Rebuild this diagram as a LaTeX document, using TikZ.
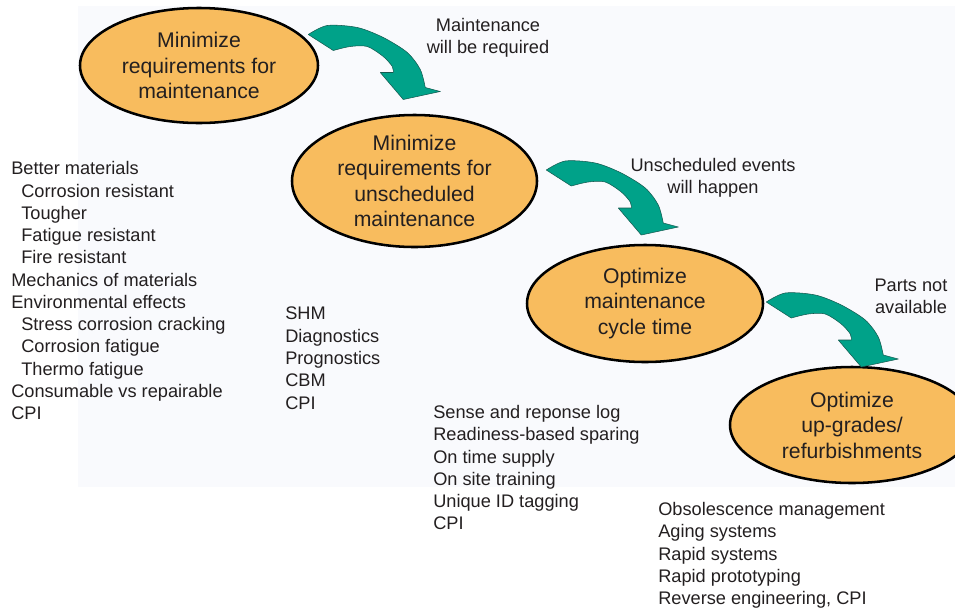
\documentclass[tikz,border=0pt]{standalone}
\usepackage{fontspec}
\setmainfont{Liberation Sans}
\usetikzlibrary{shapes.geometric}

\definecolor{goalfill}{RGB}{248,188,94}
\definecolor{arrowteal}{RGB}{0,162,137}
\definecolor{arrowedge}{RGB}{20,90,80}
\definecolor{inktext}{RGB}{35,31,32}
\definecolor{paneltint}{RGB}{249,250,253}

% bent block arrow, tail fixed at a node anchor plus an offset
\newcommand{\bendarrow}[2]{%
	\fill [arrowteal, draw=arrowedge, line width=.4pt, line join=round, shift={(#1)}, shift={(#2)}]
		plot [smooth] coordinates {(0,0) (19,-9) (49,-7) (75,3) (99,18) (112,35) (117,53)}
		-- (132,57) -- (95,65) -- (72,38) -- (85,38)
		-- plot [smooth] coordinates {(85,38) (84,32) (75,22) (59,12) (42,12) (25,16)}
		-- cycle;}

\begin{document}
\begin{tikzpicture}[x = .75pt, y = -.75pt,
		goal/.style = {ellipse, draw = black, line width = 1.9pt, fill = goalfill, inner sep = 0pt,
			align = center, text = inktext, font = \fontsize{15.9}{19.1}\selectfont},
		items/.style = {anchor = north west, align = left, inner sep = 0pt, text = inktext,
			font = \fontsize{13.65}{16.7}\selectfont},
		cue/.style = {anchor = north, align = center, inner sep = 0pt, text = inktext,
			font = \fontsize{13.65}{16.5}\selectfont}]
		\useasboundingbox (0,0) rectangle (955,611);
		\fill [paneltint] (78,6) rectangle (955,487);
		
		\node (e1) at (199,65.5) [goal, minimum width = 178.5pt, minimum height = 86.25pt] {Minimize\\requirements for\\maintenance};
		\node (e2) at (414.5,181) [goal, minimum width = 183.75pt, minimum height = 99pt] {Minimize\\requirements for\\unscheduled\\maintenance};
		\node (e3) at (645,303.5) [goal, minimum width = 177pt, minimum height = 87.75pt] {Optimize\\maintenance\\cycle time};
		\node (e4) at (852,425) [goal, minimum width = 183pt, minimum height = 87pt] {Optimize\\up-grades/\\refurbishments};
		
		\bendarrow{e1.east}{-11,-31}
		\bendarrow{e2.east}{8,-11}
		\bendarrow{e3.east}{2,-1.5}
		
		\node (need) at (488,18) [cue] {Maintenance\\will be required};
		\node (events) at (713,158) [cue] {Unscheduled events\\will happen};
		\node (parts) at (911,279) [cue] {Parts not\\available};
		
		\node (materials) at (11,161.3) [items] {Better materials\\
			\hspace*{7.5pt}Corrosion resistant\\
			\hspace*{7.5pt}Tougher\\
			\hspace*{7.5pt}Fatigue resistant\\
			\hspace*{7.5pt}Fire resistant\\
			Mechanics of materials\\
			Environmental effects\\
			\hspace*{7.5pt}Stress corrosion cracking\\
			\hspace*{7.5pt}Corrosion fatigue\\
			\hspace*{7.5pt}Thermo fatigue\\
			Consumable vs repairable\\
			CPI};
		\node (health) at (285,307) [items] {SHM\\Diagnostics\\Prognostics\\CBM\\CPI};
		\node (support) at (433,405) [items] {Sense and reponse log\\Readiness-based sparing\\On time supply\\On site training\\Unique ID tagging\\CPI};
		\node (ageing) at (658,502) [items] {Obsolescence management\\Aging systems\\Rapid systems\\Rapid prototyping\\Reverse engineering, CPI};
\end{tikzpicture}
\end{document}
